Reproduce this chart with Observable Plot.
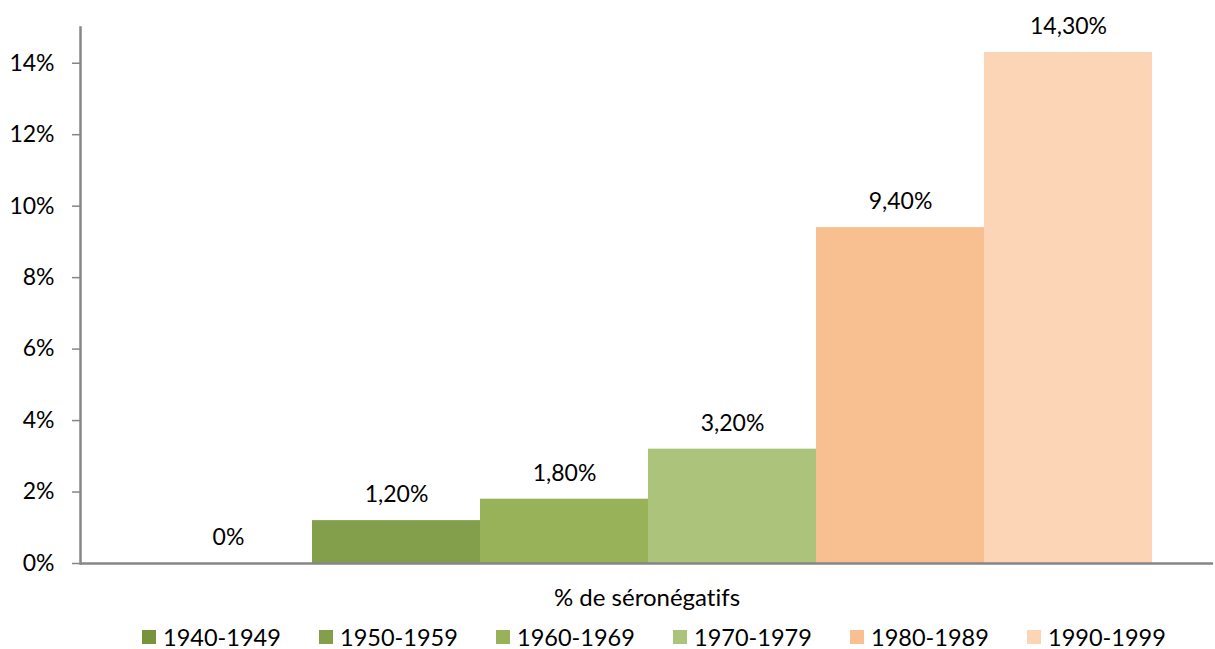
<!DOCTYPE html>
<html>
<head>
<meta charset="utf-8">
<script src="https://cdn.jsdelivr.net/npm/d3@7"></script>
<script src="https://cdn.jsdelivr.net/npm/@observablehq/plot@0.6"></script>
<style>
  html, body { margin: 0; padding: 0; background: #fff; }
  #chart { width: 1215px; font-family: Lato, "Open Sans", sans-serif; font-variant-ligatures: none; }
  #chart svg text { font-variant-ligatures: none; }
  .legend { display: flex; justify-content: flex-start; height: 50px; align-items: center; padding-left: 142px; }
  .legend .item { display: flex; align-items: center; width: 177px; font-size: 23.5px; color: #000; white-space: nowrap; }
  .legend .sw { width: 14px; height: 14px; margin-right: 7px; flex: none; }
</style>
</head>
<body>
<div id="chart"></div>
<script>
const decades = ["1940-1949", "1950-1959", "1960-1969", "1970-1979", "1980-1989", "1990-1999"];
const values = [0, 0.012, 0.018, 0.032, 0.094, 0.143];
const valueLabels = ["0%", "1,20%", "1,80%", "3,20%", "9,40%", "14,30%"];
const colors = ["#77933C", "#849F4B", "#98B25A", "#ABC37A", "#F8C090", "#FBD5B5"];
const yTicks = [0, 0.02, 0.04, 0.06, 0.08, 0.10, 0.12, 0.14];
const yTickLabels = ["0%", "2%", "4%", "6%", "8%", "10%", "12%", "14%"];
const axisTitle = "% de séronégatifs";

const data = decades.map((d, i) => ({decade: d, value: values[i], label: valueLabels[i]}));
const axisGray = "#868686";

const plot = Plot.plot({
  width: 1215,
  height: 612,
  marginLeft: 80,
  marginRight: 2,
  marginTop: 27,
  marginBottom: 49,
  style: {fontFamily: "Lato, 'Open Sans', sans-serif", fontSize: "23px", color: "#000", background: "#fff"},
  x: {type: "band", domain: decades, range: [143, 1153], padding: 0, axis: null},
  y: {domain: [0, 0.15], axis: null},
  color: {domain: decades, range: colors},
  marks: [
    Plot.barY(data, {x: "decade", y: "value", fill: "decade", inset: 0}),
    Plot.axisY({ticks: yTicks, tickFormat: (d) => yTickLabels[yTicks.indexOf(d)], tickSize: 8, tickPadding: 18, stroke: axisGray, strokeWidth: 1.5, color: "#000", fontSize: 23, label: null}),
    Plot.frame({anchor: "left", stroke: axisGray, strokeWidth: 2.5}),
    Plot.ruleY([0], {stroke: axisGray, strokeWidth: 2.5}),
    Plot.text(data, {x: "decade", y: "value", text: "label", dy: -26, lineAnchor: "middle", fill: "#000", fontSize: 23}),
    Plot.text([axisTitle], {frameAnchor: "bottom", dy: 35, lineAnchor: "middle", fill: "#000", fontSize: 24})
  ]
});

const chart = document.getElementById("chart");
chart.appendChild(plot);

const legend = document.createElement("div");
legend.className = "legend";
decades.forEach((d, i) => {
  const item = document.createElement("div");
  item.className = "item";
  const sw = document.createElement("span");
  sw.className = "sw";
  sw.style.background = colors[i];
  const t = document.createElement("span");
  t.textContent = d;
  item.appendChild(sw);
  item.appendChild(t);
  legend.appendChild(item);
});
chart.appendChild(legend);
</script>
</body>
</html>
